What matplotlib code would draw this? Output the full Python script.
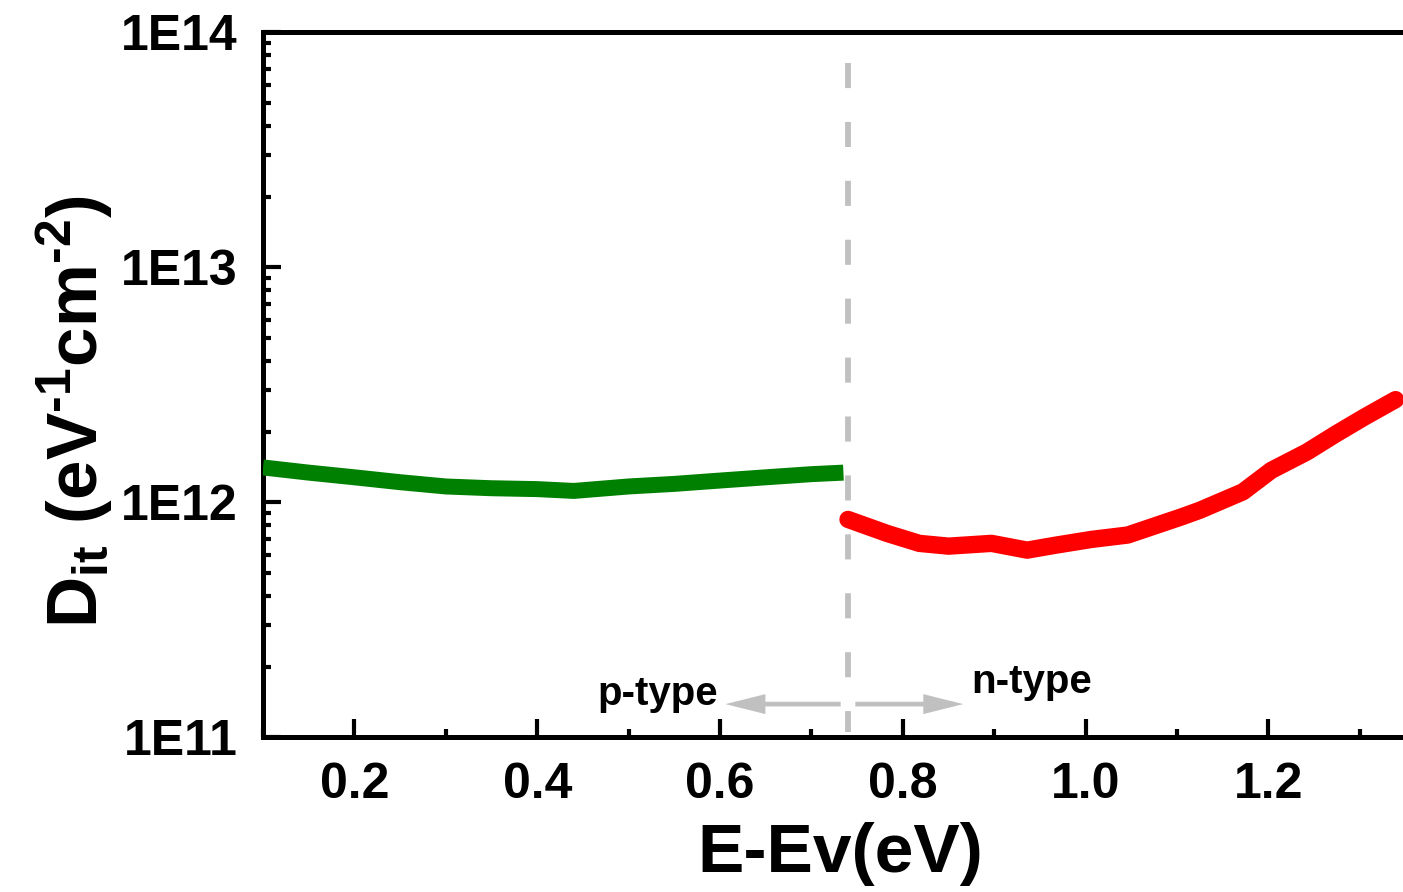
import numpy as np
import matplotlib
matplotlib.use("Agg")
import matplotlib.pyplot as plt
from matplotlib.ticker import FixedLocator, LogLocator, MultipleLocator, NullFormatter

# Interface trap density vs. energy above the valence band edge
p_energy = [0.100, 0.150, 0.200, 0.250, 0.300, 0.350, 0.400, 0.440,
            0.500, 0.550, 0.600, 0.650, 0.700, 0.735]
p_dit = [1.41e12, 1.34e12, 1.28e12, 1.22e12, 1.17e12, 1.15e12, 1.14e12, 1.12e12,
         1.17e12, 1.20e12, 1.24e12, 1.28e12, 1.32e12, 1.34e12]

n_energy = [0.740, 0.783, 0.818, 0.850, 0.897, 0.936, 0.967, 1.007, 1.046,
            1.105, 1.125, 1.172, 1.203, 1.242, 1.274, 1.305, 1.339]
n_dit = [8.47e11, 7.38e11, 6.70e11, 6.52e11, 6.70e11, 6.27e11, 6.58e11, 6.97e11, 7.27e11,
         8.69e11, 9.27e11, 1.11e12, 1.37e12, 1.64e12, 1.96e12, 2.31e12, 2.74e12]

midgap = 0.74
x_major_ticks = [0.2, 0.4, 0.6, 0.8, 1.0, 1.2]
x_tick_labels = ["0.2", "0.4", "0.6", "0.8", "1.0", "1.2"]
y_major_ticks = [1e11, 1e12, 1e13, 1e14]
y_tick_labels = ["1E11", "1E12", "1E13", "1E14"]

FONT = "Liberation Sans"
plt.rcParams["font.family"] = [FONT, "DejaVu Sans"]
plt.rcParams["font.weight"] = "bold"
plt.rcParams["mathtext.fontset"] = "custom"
plt.rcParams["mathtext.rm"] = f"{FONT}:bold"
plt.rcParams["mathtext.bf"] = f"{FONT}:bold"
plt.rcParams["mathtext.it"] = f"{FONT}:bold"

fig = plt.figure(figsize=(14.03, 8.92), dpi=100)
ax = fig.add_axes([0.18745, 0.17321, 0.8144, 0.79036])

ax.set_yscale("log")
ax.set_xlim(0.1, 1.35)
ax.set_ylim(1e11, 1e14)

# p-type branch (green) and n-type branch (red)
ax.plot(p_energy, p_dit, color="#008000", lw=11.5, solid_capstyle="butt",
        solid_joinstyle="round", zorder=3)
ax.plot(n_energy, n_dit, color="#ff0000", lw=12.5, solid_capstyle="round",
        solid_joinstyle="round", zorder=3)

# midgap separator
ax.plot([midgap, midgap], [7.45e13, 1.055e11], color="#c0c0c0", lw=4.2,
        dashes=(4.3, 5.8), zorder=2)

# direction arrows
arrow_y = 1.387e11
arrow_kw = dict(arrowstyle="-|>,head_length=2.0,head_width=0.5", color="#c0c0c0",
                lw=3.4, mutation_scale=10, shrinkA=0, shrinkB=0,
                joinstyle="miter", capstyle="butt")
ax.annotate("", xy=(0.606, arrow_y), xytext=(0.732, arrow_y), arrowprops=arrow_kw)
ax.annotate("", xy=(0.866, arrow_y), xytext=(0.748, arrow_y), arrowprops=arrow_kw)

ax.text(0.532, 1.531e11, "p-type", fontsize=29, fontweight="bold", ha="center", va="center")
ax.text(0.941, 1.72e11, "n-type", fontsize=29, fontweight="bold", ha="center", va="center")

# axes styling
for side in ("left", "bottom", "top"):
    ax.spines[side].set_linewidth(3.6)
ax.spines["right"].set_visible(False)

ax.xaxis.set_major_locator(FixedLocator(x_major_ticks))
ax.set_xticklabels(x_tick_labels)
ax.xaxis.set_minor_locator(MultipleLocator(0.1))
ax.yaxis.set_major_locator(FixedLocator(y_major_ticks))
ax.set_yticklabels(y_tick_labels)
ax.yaxis.set_minor_locator(LogLocator(base=10, subs=np.arange(2, 10)))
ax.yaxis.set_minor_formatter(NullFormatter())

ax.tick_params(which="both", direction="in", top=False, right=False, width=3)
ax.tick_params(which="major", length=13, pad=18, labelsize=36)
ax.tick_params(which="minor", length=6)
for lab in ax.get_xticklabels() + ax.get_yticklabels():
    lab.set_fontweight("bold")

ax.set_xlabel("E-Ev(eV)", fontsize=50, fontweight="bold")
ax.xaxis.set_label_coords(0.505, -0.12)
ax.set_ylabel(r"$\mathbf{D_{it}\ (eV^{\text{-}1}cm^{\text{-}2})}$", fontsize=51, va="center")
ax.yaxis.set_label_coords(-0.1646, 0.463)

fig.savefig("out.png", dpi=100)
